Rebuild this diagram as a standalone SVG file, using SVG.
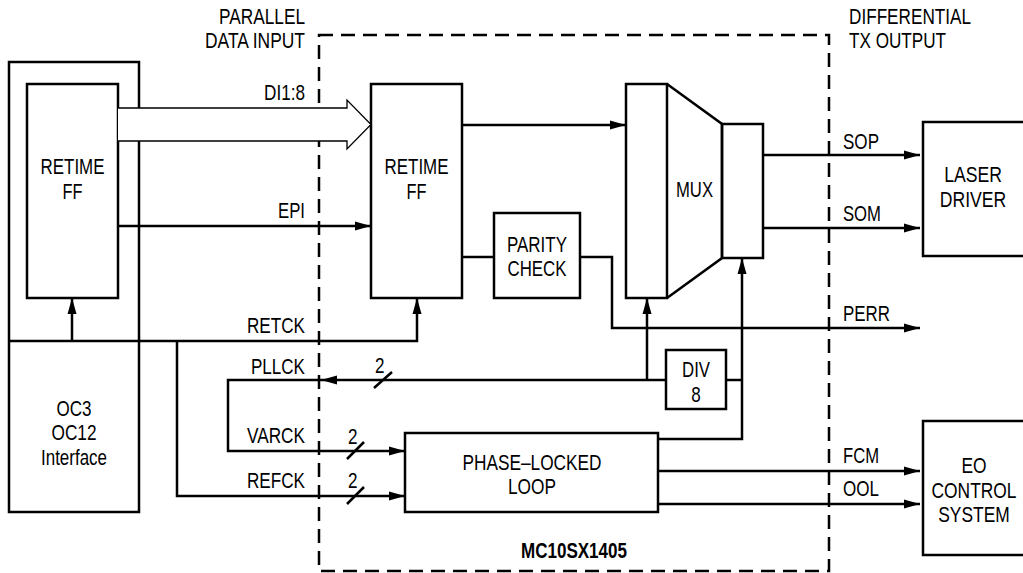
<svg xmlns="http://www.w3.org/2000/svg" width="1023" height="573" viewBox="0 0 1023 573">
<style>
.b{fill:none;stroke:#000;stroke-width:2.5}
.c{fill:none;stroke:#000;stroke-width:2.5}
.d{fill:none;stroke:#000;stroke-width:2.5;stroke-dasharray:14 8}
.t{font-family:"Liberation Sans",Arial,sans-serif;font-size:22px;fill:#000}
.m{text-anchor:middle}
.e{text-anchor:end}
</style>
<defs>
<marker id="ah" markerUnits="userSpaceOnUse" markerWidth="17" markerHeight="10" refX="16" refY="5" orient="auto">
<path d="M0,0.5 L16,5 L0,9.5 Z" fill="#000"/>
</marker>
</defs>
<rect width="1023" height="573" fill="#fff"/>

<g id="chip-boundary">
<rect class="d" x="319" y="35" width="510" height="536"/>
<text class="t m" x="574" y="558" font-weight="bold" textLength="106" lengthAdjust="spacingAndGlyphs">MC10SX1405</text>
</g>

<g id="labels-top">
<text class="t e" x="305" y="24" textLength="86" lengthAdjust="spacingAndGlyphs">PARALLEL</text>
<text class="t e" x="305" y="48" textLength="100" lengthAdjust="spacingAndGlyphs">DATA INPUT</text>
<text class="t" x="849" y="24" textLength="122" lengthAdjust="spacingAndGlyphs">DIFFERENTIAL</text>
<text class="t" x="849" y="48" textLength="97" lengthAdjust="spacingAndGlyphs">TX OUTPUT</text>
</g>

<g id="interface">
<rect class="b" x="9" y="62" width="130" height="450"/>
<text class="t m" x="74" y="416" textLength="35" lengthAdjust="spacingAndGlyphs">OC3</text>
<text class="t m" x="74" y="440" textLength="45" lengthAdjust="spacingAndGlyphs">OC12</text>
<text class="t m" x="74" y="465" textLength="66" lengthAdjust="spacingAndGlyphs">Interface</text>
</g>

<g id="retime-ff-left">
<rect class="b" x="27" y="84" width="91" height="214"/>
<text class="t m" x="72.5" y="174" textLength="64" lengthAdjust="spacingAndGlyphs">RETIME</text>
<text class="t m" x="72.5" y="199" textLength="20" lengthAdjust="spacingAndGlyphs">FF</text>
</g>

<g id="retime-ff">
<rect class="b" x="371" y="84" width="91" height="214"/>
<text class="t m" x="416.5" y="174" textLength="64" lengthAdjust="spacingAndGlyphs">RETIME</text>
<text class="t m" x="416.5" y="199" textLength="20" lengthAdjust="spacingAndGlyphs">FF</text>
</g>

<g id="parity-check">
<rect class="b" x="494" y="213" width="86" height="85"/>
<text class="t m" x="537" y="252" textLength="60" lengthAdjust="spacingAndGlyphs">PARITY</text>
<text class="t m" x="537" y="276" textLength="59" lengthAdjust="spacingAndGlyphs">CHECK</text>
</g>

<g id="mux">
<rect class="b" x="626" y="84" width="41" height="214"/>
<path class="b" d="M667,84 L722,124 L722,258 L667,298"/>
<rect class="b" x="722" y="124" width="41" height="134"/>
<text class="t m" x="694.5" y="197" textLength="37" lengthAdjust="spacingAndGlyphs">MUX</text>
</g>

<g id="div8">
<rect class="b" x="666" y="350" width="60" height="59"/>
<text class="t m" x="696" y="377" textLength="28" lengthAdjust="spacingAndGlyphs">DIV</text>
<text class="t m" x="696" y="402" textLength="9.5" lengthAdjust="spacingAndGlyphs">8</text>
</g>

<g id="pll">
<rect class="b" x="405" y="433" width="253" height="79"/>
<text class="t m" x="532" y="470" textLength="139" lengthAdjust="spacingAndGlyphs">PHASE–LOCKED</text>
<text class="t m" x="532" y="494" textLength="48" lengthAdjust="spacingAndGlyphs">LOOP</text>
</g>

<g id="laser-driver">
<rect class="b" x="923" y="122" width="110" height="134"/>
<text class="t m" transform="translate(973,182) scale(0.8,1)">LASER</text>
<text class="t m" transform="translate(973,207) scale(0.8,1)">DRIVER</text>
</g>

<g id="eo-control">
<rect class="b" x="923" y="421" width="110" height="134"/>
<text class="t m" transform="translate(974,473) scale(0.79,1)">EO</text>
<text class="t m" transform="translate(974,498) scale(0.79,1)">CONTROL</text>
<text class="t m" transform="translate(974,522) scale(0.79,1)">SYSTEM</text>
</g>

<g id="connectors">
<path d="M118,108 L347,108 L347,100 L371,124.5 L347,149 L347,141 L118,141" fill="#fff" stroke="#000" stroke-width="1.3"/>
<path class="c" d="M118,226 H371" marker-end="url(#ah)"/>
<path class="c" d="M462,125 H626" marker-end="url(#ah)"/>
<path class="c" d="M462,257 H494"/>
<path class="c" d="M580,257 H612 V328 H920" marker-end="url(#ah)"/>
<path class="c" d="M763,155 H920" marker-end="url(#ah)"/>
<path class="c" d="M763,228 H920" marker-end="url(#ah)"/>
<path class="c" d="M9,341 H417 V298" marker-end="url(#ah)"/>
<path class="c" d="M72,341 V298" marker-end="url(#ah)"/>
<path class="c" d="M177,341 V496 H405" marker-end="url(#ah)"/>
<path class="c" d="M666,380 H321" marker-end="url(#ah)"/>
<path class="c" d="M321,380 H228 V451 H405" marker-end="url(#ah)"/>
<path class="c" d="M647,380 V298" marker-end="url(#ah)"/>
<path class="c" d="M726,380 H742"/>
<path class="c" d="M658,439 H742 V258" marker-end="url(#ah)"/>
<path class="c" d="M658,471 H920" marker-end="url(#ah)"/>
<path class="c" d="M658,504 H920" marker-end="url(#ah)"/>
<path class="c" d="M374,388 L392,372 M347,459 L364,442 M347,504 L364,487"/>
<text class="t e" x="305" y="100" textLength="41" lengthAdjust="spacingAndGlyphs">DI1:8</text>
<text class="t e" x="305" y="218" textLength="27" lengthAdjust="spacingAndGlyphs">EPI</text>
<text class="t e" x="305" y="333" textLength="58" lengthAdjust="spacingAndGlyphs">RETCK</text>
<text class="t e" x="305" y="374" textLength="54" lengthAdjust="spacingAndGlyphs">PLLCK</text>
<text class="t e" x="305" y="443" textLength="58" lengthAdjust="spacingAndGlyphs">VARCK</text>
<text class="t e" x="305" y="488" textLength="58" lengthAdjust="spacingAndGlyphs">REFCK</text>
<text class="t" x="375" y="373" textLength="9.5" lengthAdjust="spacingAndGlyphs">2</text>
<text class="t" x="348" y="444" textLength="9.5" lengthAdjust="spacingAndGlyphs">2</text>
<text class="t" x="348" y="488" textLength="9.5" lengthAdjust="spacingAndGlyphs">2</text>
<text class="t" x="843" y="149" textLength="36" lengthAdjust="spacingAndGlyphs">SOP</text>
<text class="t" x="843" y="221" textLength="38" lengthAdjust="spacingAndGlyphs">SOM</text>
<text class="t" x="843" y="321" textLength="47" lengthAdjust="spacingAndGlyphs">PERR</text>
<text class="t" x="843" y="463" textLength="36" lengthAdjust="spacingAndGlyphs">FCM</text>
<text class="t" x="843" y="496" textLength="36" lengthAdjust="spacingAndGlyphs">OOL</text>
</g>
</svg>
